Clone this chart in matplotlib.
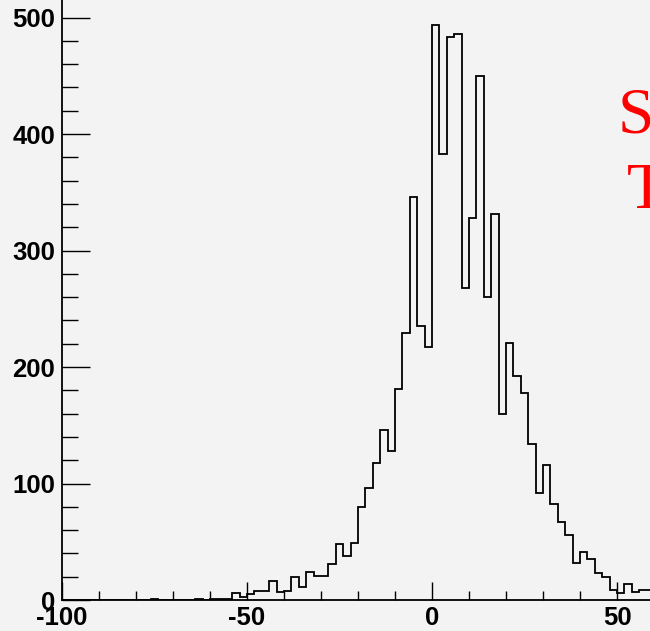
import matplotlib
matplotlib.use("Agg")
import matplotlib.pyplot as plt
from matplotlib.ticker import MultipleLocator
import numpy as np

# Histogram contents, 2-unit bins starting at -100 (visible part only)
bin_low = -100
bin_width = 2
counts = [0, 0, 0, 0, 0, 0, 0, 0, 0, 0, 0, 0,
          1, 0, 0, 0, 0, 0, 1, 0, 1, 1, 1,
          6, 3, 5, 8, 8, 16, 7, 8, 20, 11,
          24, 21, 21, 31, 48, 38, 49, 80, 96, 118,
          146, 128, 181, 229, 346, 235, 217,
          494, 383, 483, 486, 268, 328, 450, 260, 331, 160,
          221, 192, 178, 134, 92, 116, 82, 67, 56, 32,
          41, 35, 23, 20, 9, 6, 14, 7, 9, 9]

x_range = [-100, 100]
y_range = [0, 519.4]
labels_right = ["S", "T"]

BG = "#f3f3f3"


def main():
    plt.rcParams['axes.unicode_minus'] = False
    fig = plt.figure(figsize=(6.5, 6.31), dpi=100, facecolor=BG)

    # axes is bigger than the canvas, the picture is a crop of a ROOT pad
    ax = fig.add_axes([62 / 650, 31 / 631, 740 / 650, 605 / 631])
    ax.set_facecolor(BG)

    edges = bin_low + bin_width * np.arange(len(counts) + 1)
    ax.stairs(counts, edges, color="black", linewidth=1.3, baseline=0)

    ax.set_xlim(*x_range)
    ax.set_ylim(*y_range)

    for s in ["top", "right"]:
        ax.spines[s].set_visible(False)
    for s in ["left", "bottom"]:
        ax.spines[s].set_linewidth(1.3)
        ax.spines[s].set_zorder(5)

    ax.xaxis.set_major_locator(MultipleLocator(50))
    ax.xaxis.set_minor_locator(MultipleLocator(10))
    ax.yaxis.set_major_locator(MultipleLocator(100))
    ax.yaxis.set_minor_locator(MultipleLocator(20))

    ax.tick_params(axis="x", which="major", direction="in", length=13, width=1, pad=4)
    ax.tick_params(axis="x", which="minor", direction="in", length=6.8, width=1)
    ax.tick_params(axis="y", which="major", direction="in", length=20, width=1, pad=5)
    ax.tick_params(axis="y", which="minor", direction="in", length=11.5, width=1)

    for lab in ax.get_xticklabels() + ax.get_yticklabels():
        lab.set_fontfamily("Liberation Sans")
        lab.set_fontweight("bold")
        lab.set_fontsize(18.5)

    # red pave text, cut off by the right edge
    fig.text(618 / 650, 1 - 132 / 631, labels_right[0], color="red",
             family="Liberation Serif", fontsize=47, va="baseline", ha="left")
    fig.text(627 / 650, 1 - 208 / 631, labels_right[1], color="red",
             family="Liberation Serif", fontsize=47, va="baseline", ha="left")

    fig.savefig("out.png", dpi=100, facecolor=BG)


if __name__ == "__main__":
    main()
